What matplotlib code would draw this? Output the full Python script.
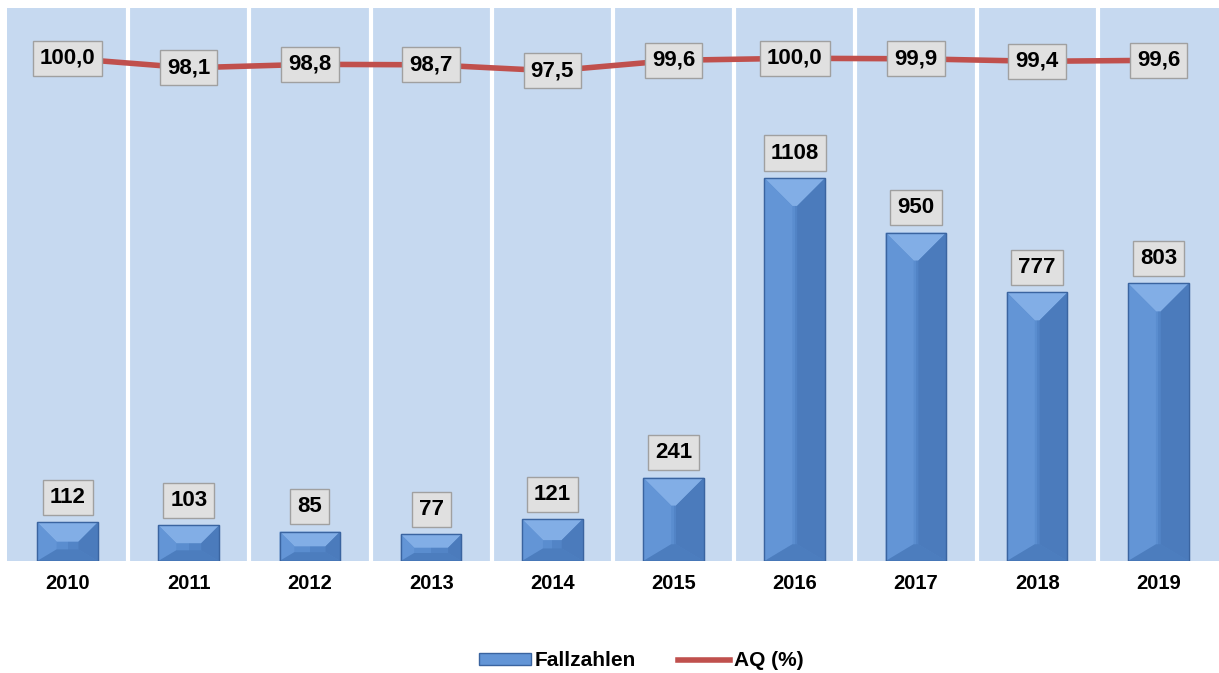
import numpy as np
import matplotlib.pyplot as plt
from matplotlib.patches import Polygon, Rectangle
from matplotlib.lines import Line2D

plt.rcParams['font.family'] = ['Liberation Sans', 'DejaVu Sans']

years = ['2010', '2011', '2012', '2013', '2014', '2015', '2016', '2017', '2018', '2019']
fallzahlen = [112, 103, 85, 77, 121, 241, 1108, 950, 777, 803]
aq = [100.0, 98.1, 98.8, 98.7, 97.5, 99.6, 100.0, 99.9, 99.4, 99.6]

BG = '#C6D9F0'
RED = '#C0504D'

fig = plt.figure(figsize=(12.19, 6.73), dpi=100)
ax = fig.add_axes([0.0057, 0.1664, 0.9943, 0.8217])
ax2 = ax.twinx()
ax.set_zorder(1)
ax2.set_zorder(2)
ax.set_facecolor(BG)
ax2.patch.set_visible(False)

x = np.arange(len(years))
ax.set_xlim(-0.5, len(years) - 0.5)
ax.set_ylim(0, 1600)
ax2.set_ylim(0, 110)

# white separators between categories
for b in np.arange(0.5, len(years) - 0.5, 1):
    ax.axvline(b, color='white', lw=3, zorder=1)

bars = ax.bar(x, fallzahlen, width=0.5, color='#5A8DCF', edgecolor='#3A64A0',
              linewidth=0.8, zorder=2)

# bevel faces for each bar, built in pixel space so the facets stay square
fig.canvas.draw()
to_px = ax.transData
to_data = ax.transData.inverted()
for bar in bars:
    x0, y0 = bar.get_x(), 0
    x1, y1 = x0 + bar.get_width(), bar.get_height()
    (px0, py0), (px1, py1) = to_px.transform([(x0, y0), (x1, y1)])
    w = px1 - px0
    h = py1 - py0
    d = min(w / 2 * 0.92, h / 2, 30)
    ix0, ix1 = px0 + d, px1 - d
    iy0, iy1 = py0 + min(d, h / 2) * 0.6, py1 - d
    if ix1 < ix0:
        ix0 = ix1 = (px0 + px1) / 2
    xm = (px0 + px1) / 2
    faces = [
        ([(xm, py0), (px1, py0), (px1, py1), (xm, py1)], '#5284C6'),
        ([(px0, py1), (px1, py1), (ix1, iy1), (ix0, iy1)], '#82AEE6'),
        ([(px0, py0), (px0, py1), (ix0, iy1), (ix0, iy0)], '#6395D6'),
        ([(px1, py0), (px1, py1), (ix1, iy1), (ix1, iy0)], '#4B7BBC'),
        ([(px0, py0), (px1, py0), (ix1, iy0), (ix0, iy0)], '#4C7DBE'),
    ]
    for pts, col in faces:
        poly = Polygon(to_data.transform(pts), closed=True, facecolor=col,
                       edgecolor='none', zorder=2.5)
        ax.add_patch(poly)
    ax.add_patch(Rectangle((x0, y0), x1 - x0, y1, fill=False,
                           edgecolor='#3A64A0', lw=1, zorder=2.6))

box = dict(boxstyle='square,pad=0.32', facecolor='#E0E0E0', edgecolor='#A0A0A0', lw=1)

for xi, v in zip(x, fallzahlen):
    ax.annotate(str(v), (xi, v), xytext=(0, 18), textcoords='offset points',
                ha='center', va='center', fontsize=16, fontweight='bold',
                bbox=box, zorder=5)

ax2.plot(x, aq, color=RED, lw=4, zorder=3, solid_capstyle='butt')
for xi, v in zip(x, aq):
    ax2.text(xi, v, f'{v:.1f}'.replace('.', ','), ha='center', va='center',
             fontsize=16, fontweight='bold', bbox=box, zorder=6)

ax.set_xticks(x)
ax.set_xticklabels(years, fontsize=14.5, fontweight='bold')
ax.tick_params(axis='x', length=0, pad=9)
ax.set_yticks([])
ax2.set_yticks([])
for a in (ax, ax2):
    for s in a.spines.values():
        s.set_visible(False)

handles = [
    Rectangle((0, 0), 1, 1, facecolor='#6395D6', edgecolor='#3A64A0'),
    Line2D([0], [0], color=RED, lw=4),
]
leg = fig.legend(handles, ['Fallzahlen', 'AQ (%)'], loc='center',
                 bbox_to_anchor=(0.526, 1 - 661 / 673), ncol=2, frameon=False,
                 prop={'size': 15, 'weight': 'bold'}, handlelength=2.5,
                 handleheight=0.5, handletextpad=0.2, columnspacing=2.0)

fig.savefig('out.png', dpi=100)
